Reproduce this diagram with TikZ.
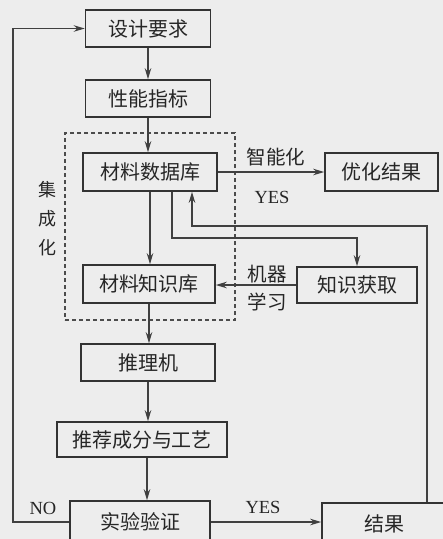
\documentclass[tikz,border=0pt]{standalone}
\usepackage{fontspec}
\newfontfamily\cjk{Noto Sans CJK SC}
\newfontfamily\latf{Liberation Serif}
\usetikzlibrary{arrows.meta}
\begin{document}
\begin{tikzpicture}[x=1pt,y=-1pt,
  box/.style={draw=black!80, line width=1.6pt, inner sep=0pt, minimum height=37pt,
    font=\cjk\fontsize{20}{20}\selectfont, text=black!85},
  lbl/.style={font=\cjk\fontsize{19.5}{19.5}\selectfont, text=black!85, inner sep=0pt},
  lat/.style={font=\latf\fontsize{18.5}{18.5}\selectfont, text=black!85, inner sep=0pt},
  arr/.style={-{Stealth[length=11pt,width=6.5pt]}, line width=1.5pt, draw=black!75}]
\useasboundingbox (0,0) rectangle (443,539);
\fill[black!7] (0,0) rectangle (443,539);
\clip (0,0) rectangle (443,539);
% group
\node (grp) [draw=black!70, dashed, line width=1.1pt, dash pattern=on 4pt off 3pt,
  minimum width=170pt, minimum height=187pt, inner sep=0pt] at (150,226.5) {};
% boxes
\node (d1) [box, minimum width=125pt] at (148,28.5) {设计要求};
\node (d2) [box, minimum width=125pt] at (148,98.5) {性能指标};
\node (db) [box, minimum width=134pt, minimum height=38pt] at (150,172) {材料数据库};
\node (opt) [box, minimum width=113pt, minimum height=38pt] at (381.5,172) {优化结果};
\node (kb) [box, minimum width=132pt, minimum height=38pt] at (149,284) {材料知识库};
\node (ka) [box, minimum width=120pt, minimum height=36pt] at (357,285) {知识获取};
\node (inf) [box, minimum width=134pt] at (148,362.5) {推理机};
\node (rec) [box, minimum width=170pt, minimum height=35pt] at (142,439.5) {推荐成分与工艺};
\node (exp) [box, minimum width=140pt, minimum height=42pt] at (140,522) {实验验证};
\node (res) [box, minimum width=124pt, minimum height=42pt] at (384,524) {结果};
% labels
\node (l1) [lbl] at (276,157) {智能化};
\node (l2) [lat] at (272,197) {YES};
\node (l3) [lbl] at (267,274) {机器};
\node (l4) [lbl] at (267,302) {学习};
\node (l5) [lbl, align=center, font=\cjk\fontsize{18}{29}\selectfont] at (47,219) {集\\成\\化};
\node (l6) [lat] at (43,508) {NO};
\node (l7) [lat] at (263,507) {YES};
% connectors
\draw[arr] (d1.south) -- (d1.south |- d2.north);
\draw[arr] (d2.south) -- (d2.south |- db.north);
\draw[arr] (db.south) -- (db.south |- kb.north);
\draw[arr] (db.east) -- (opt.west);
\draw[arr] (ka.west) -- (kb.east |- ka.west);
\draw[arr] ([xshift=22pt]db.south) -- ++(0,46) -| (ka.north);
\draw[arr] ([xshift=43pt]res.north) -- ++(0,-276) -| ([xshift=42pt]db.south);
\draw[arr] (kb.south) -- (kb.south |- inf.north);
\draw[arr] (inf.south) -- (inf.south |- rec.north);
\draw[arr] ([xshift=5pt]rec.south) -- ([xshift=5pt]rec.south |- exp.north);
\draw[arr] (exp.east) -- (exp.east -| res.west);
\coordinate (fb) at (13,522);
\draw[arr] (exp.west) -- (fb) |- (d1.west);
\end{tikzpicture}
\end{document}
